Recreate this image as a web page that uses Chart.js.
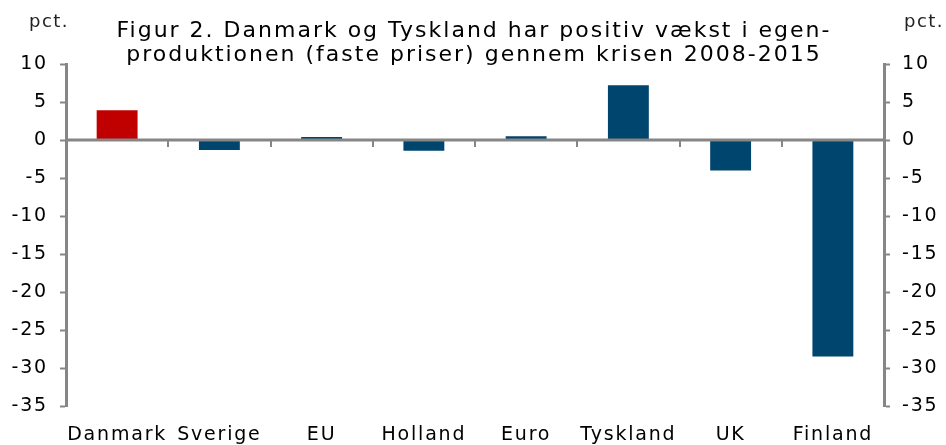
<!DOCTYPE html>
<html>
<head>
<meta charset="utf-8">
<script src="https://cdn.jsdelivr.net/npm/chart.js@4"></script>
<style>
  html, body { margin: 0; padding: 0; background: #fff; }
  #wrap { width: 946px; height: 445px; position: relative; }
</style>
</head>
<body>
<div id="wrap"><canvas id="chart"></canvas></div>
<script>
// Data
const categories = ['Danmark', 'Sverige', 'EU', 'Holland', 'Euro', 'Tyskland', 'UK', 'Finland'];
const growth = [3.9, -1.3, 0.4, -1.4, 0.5, 7.2, -4.0, -28.5];
const yTicks = [10, 5, 0, -5, -10, -15, -20, -25, -30, -35];
const titleLines = [
  'Figur 2. Danmark og Tyskland har positiv vækst i egen-',
  'produktionen (faste priser) gennem krisen 2008-2015'
];
const unitLabel = 'pct.';

const FONT = 'DejaVu Sans';
const AXIS = '#868686';
const BLUE = '#00456E';
const RED = '#C00000';

// wider letter spacing like the original Verdana look
const spacing = {
  id: 'spacing',
  beforeDraw(chart) { chart.ctx.letterSpacing = '1.8px'; },
  beforeLayout(chart) { chart.ctx.letterSpacing = '1.8px'; }
};

// Zero line with category separators + title text
const decorations = {
  id: 'decorations',
  afterDatasetsDraw(chart) {
    const { ctx, chartArea, scales } = chart;
    const y0 = scales.y.getPixelForValue(0);
    ctx.save();
    ctx.strokeStyle = AXIS;
    ctx.lineWidth = 3;
    ctx.beginPath();
    ctx.moveTo(chartArea.left, y0);
    ctx.lineTo(chartArea.right, y0);
    ctx.stroke();
    ctx.lineWidth = 2;
    for (let i = 0; i < categories.length - 1; i++) {
      const x = Math.round((scales.x.getPixelForValue(i) + scales.x.getPixelForValue(i + 1)) / 2);
      ctx.beginPath();
      ctx.moveTo(x, y0);
      ctx.lineTo(x, y0 + 7);
      ctx.stroke();
    }
    ctx.restore();
  },
  afterDraw(chart) {
    const { ctx } = chart;
    ctx.save();
    ctx.fillStyle = '#000';
    ctx.textAlign = 'center';
    ctx.textBaseline = 'alphabetic';
    ctx.font = '22px "' + FONT + '"';
    ctx.letterSpacing = '2px';
    ctx.fillText(titleLines[0], 474, 37);
    ctx.fillText(titleLines[1], 474, 61);
    ctx.font = '18px "' + FONT + '"';
    ctx.letterSpacing = '1.5px';
    ctx.fillStyle = '#222';
    ctx.fillText(unitLabel, 49, 27);
    ctx.fillText(unitLabel, 924, 27);
    ctx.restore();
  }
};

const tickCfg = {
  color: '#000',
  font: { family: FONT, size: 19 },
  padding: 12,
  autoSkip: false
};

new Chart(document.getElementById('chart'), {
  type: 'bar',
  data: {
    labels: categories,
    datasets: [{
      data: growth,
      backgroundColor: categories.map(c => c === 'Danmark' ? RED : BLUE),
      borderWidth: 0,
      barPercentage: 0.4,
      categoryPercentage: 1
    }]
  },
  options: {
    responsive: true,
    maintainAspectRatio: false,
    animation: false,
    layout: { padding: { top: 64, left: 0, right: 0, bottom: 0 } },
    plugins: {
      legend: { display: false },
      tooltip: { enabled: false },
      title: { display: false }
    },
    scales: {
      x: {
        position: 'bottom',
        grid: { display: false, drawTicks: false },
        border: { display: false },
        ticks: { color: '#000', font: { family: FONT, size: 19 }, padding: 18, maxRotation: 0, autoSkip: false },
        afterFit(scale) { scale.height = 39; }
      },
      y: {
        position: 'left',
        min: -35,
        max: 10,
        afterBuildTicks(scale) { scale.ticks = yTicks.map(v => ({ value: v })); },
        grid: { drawOnChartArea: false, drawTicks: true, tickLength: 6, tickColor: AXIS, tickWidth: 2 },
        border: { display: true, color: AXIS, width: 3 },
        ticks: tickCfg,
        afterFit(scale) { scale.width = 66; }
      },
      y2: {
        position: 'right',
        min: -35,
        max: 10,
        afterBuildTicks(scale) { scale.ticks = yTicks.map(v => ({ value: v })); },
        grid: { drawOnChartArea: false, drawTicks: true, tickLength: 6, tickColor: AXIS, tickWidth: 2 },
        border: { display: true, color: AXIS, width: 3 },
        ticks: tickCfg,
        afterFit(scale) { scale.width = 62; }
      }
    }
  },
  plugins: [spacing, decorations]
});
</script>
</body>
</html>
